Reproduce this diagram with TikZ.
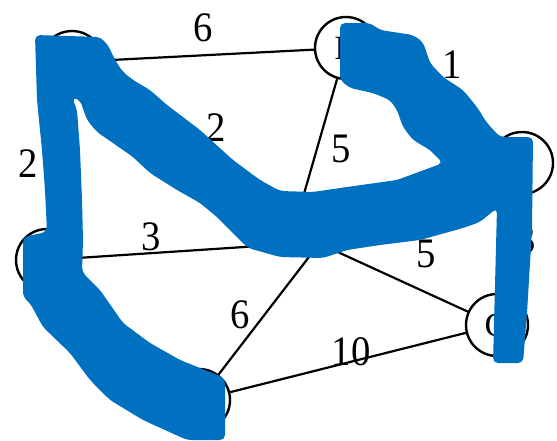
\documentclass[tikz,border=0pt]{standalone}
\usepackage{fontspec}
\setmainfont{Liberation Serif}
\definecolor{hl}{RGB}{0,112,192}
\begin{document}
\begin{tikzpicture}[x=1pt,y=-1pt,
  vtx/.style={circle,draw,line width=2.4pt,minimum size=62pt,inner sep=0pt,font=\fontsize{34}{34}\selectfont},
  edge/.style={line width=2.2pt},
  wt/.style={inner sep=0pt,xscale=0.92,font=\fontsize{42}{42}\selectfont}]
\useasboundingbox (0,0) rectangle (557,440);
% vertices
\node[vtx] (A) at (72,62) {};
\node[vtx] (B) at (346,48) {B};
\node[vtx] (C) at (522,163) {};
\node[vtx] (D) at (47,260) {};
\node[vtx] (E) at (199,400) {};
\node[vtx] (F) at (497,325) {G};
\node[vtx,minimum size=58pt] (G) at (305,225) {};
% edges
\draw[edge] (A) -- (B);
\draw[edge] (A) -- (D);
\draw[edge] (A) -- (G);
\draw[edge] (B) -- (C);
\draw[edge] (B) -- ([shift={(-10,0)}]G.center);
\draw[edge] (C) -- (G);
\draw[edge] (C) -- (F);
\draw[edge] (D) -- ([shift={(0,18)}]G.center);
\draw[edge] (D) -- (E);
\draw[edge] (E) -- ([shift={(17,15)}]G.center);
\draw[edge] (E) -- (F);
\draw[edge] (F) -- ([shift={(0,12)}]G.center);
% weights
\node[wt] (wAB) at (203,28) {6};
\node[wt] (wAD) at (28,164) {2};
\node[wt] (wAG) at (216,128) {2};
\node[wt] (wBC) at (452,65) {1};
\node[wt] (wBG) at (341,149) {5};
\node[wt] (wDG) at (151,237) {3};
\node[wt] (wEG) at (240,315) {6};
\node[wt] (wEF) at (351,352) {10};
\node[wt] (wFG) at (426,254) {5};
\node[wt] (wCF) at (526,240) {3};
% highlighted tree
\fill[hl, rounded corners=5pt]
 (35,35) -- (100,37) -- (108,45) -- (115,60) -- (123,72) -- (133,80) -- (150,90)
 -- (167,105) -- (200,130) -- (233,160) -- (260,180) -- (280,191) -- (313,192)
 -- (347,187) -- (397,180) -- (443,163) -- (430,150) -- (413,140) -- (403,127)
 -- (397,110) -- (390,100) -- (373,93) -- (350,88) -- (340,80) -- (340,23)
 -- (370,23) -- (380,30) -- (413,35) -- (423,42) -- (430,63) -- (443,77)
 -- (463,90) -- (477,107) -- (487,123) -- (500,137) -- (533,137) -- (532,230)
 -- (527,313) -- (523,363) -- (493,363) -- (497,208) -- (480,222) -- (463,228)
 -- (420,240) -- (380,245) -- (347,250) -- (323,258) -- (280,257) -- (248,248)
 -- (217,217) -- (200,203) -- (177,190) -- (150,173) -- (133,157) -- (113,143)
 -- (97,132) -- (87,120) -- (80,100) -- (72,97) -- (77,110) -- (80,150)
 -- (82,200) -- (83,240) -- (82,272) -- (100,290) -- (123,323) -- (150,343)
 -- (180,360) -- (200,368) -- (225,378) -- (225,440) -- (187,440) -- (143,420)
 -- (110,400) -- (90,380) -- (70,353) -- (43,327) -- (30,303) -- (23,297)
 -- (23,237) -- (47,232) -- (45,190) -- (42,150) -- (37,100) -- cycle;
\end{tikzpicture}
\end{document}
